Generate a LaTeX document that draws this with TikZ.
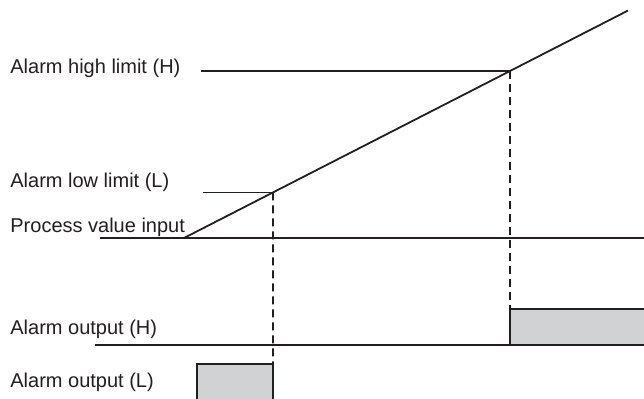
\documentclass[tikz,border=0pt]{standalone}
\usepackage{fontspec}
\setmainfont{Liberation Sans}
\usetikzlibrary{calc}
\definecolor{boxgray}{RGB}{209,210,212}
\definecolor{inkgray}{RGB}{35,31,32}

\begin{document}
\begin{tikzpicture}[x=0.5pt, y=-0.5pt, font=\fontsize{10}{12}\selectfont,
    lbl/.style={anchor=base west, inner sep=0pt, text=inkgray},
    level/.style={line width=0.9pt, draw=inkgray},
    guide/.style={line width=0.9pt, draw=inkgray, dash pattern=on 4pt off 2.5pt},
    outbox/.style={line width=1.4pt, draw=inkgray, fill=boxgray}]
    \useasboundingbox (0,0) rectangle (644,398);
    \clip (0,0) rectangle (644,398);

    \coordinate (S) at (184,238); % start of the ramp
    \coordinate (HX) at (510,71);
    \coordinate (LX) at ($(S)!0.273!(HX)$);
    \coordinate (E) at ($(S)!1.362!(HX)$);

    \coordinate (Hstart) at (201,71);
    \coordinate (Lstart) at ($(LX)+(-70,0)$);
    \coordinate (Pstart) at (100,238);
    \coordinate (Pend) at (650,238);
    \coordinate (Ostart) at (95,345);
    \coordinate (Oend) at (650,345);

    % labels
    \foreach \n/\y/\t in {hl/73/Alarm high limit (H), ll/187/Alarm low limit (L),
                         pv/232/Process value input, oh/334/Alarm output (H),
                         ol/387/Alarm output (L)} {
        \node[lbl] (\n) at (10,\y) {\t};
    }

    % alarm outputs
    \draw[outbox] (510,345) -- (510,309) -- (650,309) -- (650,345) -- cycle;
    \draw[outbox] (197,405) -- (197,364) coordinate (Ltop) -- (273,364) coordinate (Ltopr) -- (273,405);

    \draw[level] (Hstart) -- (HX);
    \draw[level] (Lstart) -- (LX);
    \draw[level] (Pstart) -- (Pend);
    \draw[level] (Ostart) -- (Oend);
    \draw[level] (S) -- (E);

    % switching points
    \draw[guide] (LX) -- (Ltopr);
    \draw[guide] (HX) -- (510,309);
\end{tikzpicture}
\end{document}
